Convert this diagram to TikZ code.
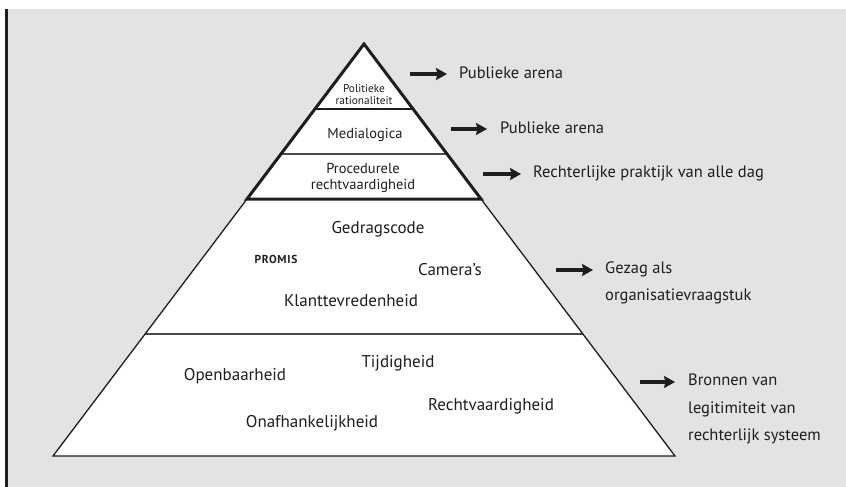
\documentclass[tikz,border=0pt]{standalone}
\usepackage{fontspec}
\setmainfont{PT Sans}
\usetikzlibrary{arrows.meta}
\definecolor{panel}{HTML}{E2E3E5}
\definecolor{ink}{HTML}{1E1E1E}
\definecolor{tierline}{HTML}{4A4A4A}
\begin{document}
\begin{tikzpicture}[x=1pt,y=-1pt,
  lbl/.style={font=\fontsize{16.5}{27.5}\selectfont, inner sep=0pt, align=left, anchor=west, text=ink},
  big/.style={font=\fontsize{17}{20}\selectfont, inner sep=0pt, text=ink},
  mid/.style={font=\fontsize{14.5}{16}\selectfont, inner sep=0pt, align=center, text=ink},
  tiny/.style={font=\fontsize{11.3}{12}\selectfont, inner sep=0pt, align=center, text=ink},
  caps/.style={font=\bfseries\fontsize{11.5}{12}\selectfont\addfontfeature{LetterSpace=6}, inner sep=0pt, text=ink},
  arr/.style={draw=ink, line width=3.4pt, -{Stealth[length=11pt,width=12pt,inset=1.5pt]}},
  tier/.style={draw=tierline, line width=1.8pt},
  edge/.style={draw=ink, line width=1.3pt, line join=miter}
]
\useasboundingbox (0,0) rectangle (846,487);

% panel and left rule
\fill[panel] (8,9) rectangle (846,487);
\draw[ink, line width=2.4pt] (6.5,9) -- (6.5,487);

% pyramid corners and tier end points
\coordinate (apex) at (364,44);
\coordinate (bl) at (53,456);
\coordinate (br) at (675,456);
\coordinate (l1) at (315,109);
\coordinate (r1) at (413,109);
\coordinate (l2) at (281,154);
\coordinate (r2) at (447,154);
\coordinate (l3) at (247,199);
\coordinate (r3) at (481,199);
\coordinate (l4) at (145,334);
\coordinate (r4) at (583,334);

\fill[white] (apex) -- (br) -- (bl) -- cycle;

% tier separators
\draw[draw=ink, line width=1.5pt] (l1) -- (r1);
\draw[tier] (l2) -- (r2);
\draw[tier] (l4) -- (r4);

% lower body of the pyramid
\draw[edge] (l3) -- (bl) -- (br) -- (r3);
% upper triangle with heavy outline
\draw[draw=ink, line width=3pt, line join=miter] (apex) -- (r3) -- (l3) -- cycle;

% texts inside the pyramid
\node[tiny] (pol) at (364,95) {Politieke\\rationaliteit};
\node[mid] (med) at (365,135) {Medialogica};
\node[mid] (proc) at (363,178) {Procedurele\\rechtvaardigheid};
\node[big] (ged) at (378,229) {Gedragscode};
\node[caps] (prom) at (276,259) {PROMIS};
\node[big] (cam) at (450,270) {Camera’s};
\node[big] (klant) at (351,301) {Klanttevredenheid};
\node[big] (open) at (235,376) {Openbaarheid};
\node[big] (tijd) at (398,363) {Tijdigheid};
\node[big] (recht) at (491,406) {Rechtvaardigheid};
\node[big] (onaf) at (312,423) {Onafhankelijkheid};

% labels on the right
\node[lbl] (t1) at (459,72.3) {Publieke arena};
\node[lbl] (t2) at (500,127.7) {Publieke arena};
\node[lbl] (t3) at (533,173) {Rechterlijke praktijk van alle dag};
\node[lbl] (t4) at (605,283) {Gezag als\\organisatievraagstuk};
\node[lbl] (t5) at (688,409) {Bronnen van\\legitimiteit van\\rechterlijk systeem};

% arrows
\coordinate (a1s) at (410,74);  \coordinate (a1e) at (447,74);
\coordinate (a2s) at (451,129); \coordinate (a2e) at (487,129);
\coordinate (a3s) at (483,174); \coordinate (a3e) at (521,174);
\coordinate (a4s) at (556,270); \coordinate (a4e) at (593,270);
\coordinate (a5s) at (640,382); \coordinate (a5e) at (675,382);
\draw[arr] (a1s) -- (a1e);
\draw[arr] (a2s) -- (a2e);
\draw[arr] (a3s) -- (a3e);
\draw[arr] (a4s) -- (a4e);
\draw[arr] (a5s) -- (a5e);
\end{tikzpicture}
\end{document}
